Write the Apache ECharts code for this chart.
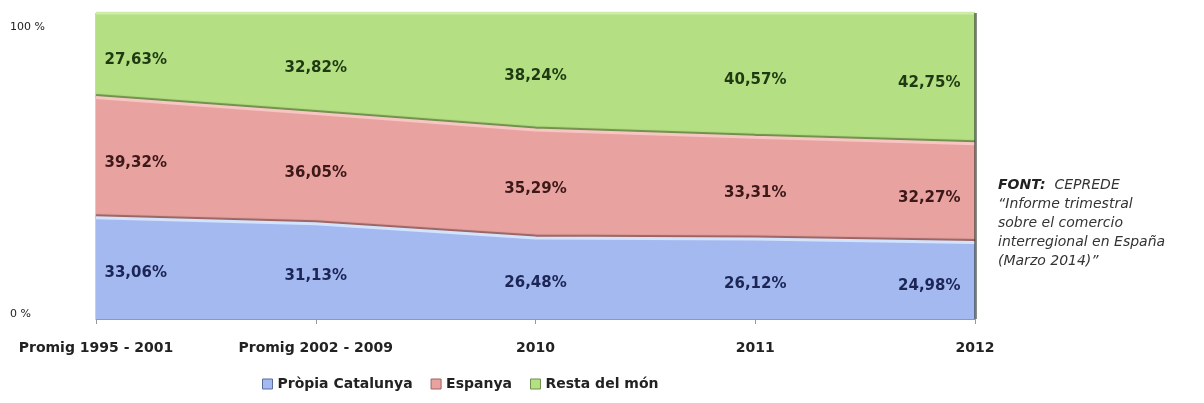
<!DOCTYPE html>
<html>
<head>
<meta charset="utf-8">
<script src="https://cdn.jsdelivr.net/npm/echarts@6/dist/echarts.min.js"></script>
<style>
  html, body { margin: 0; padding: 0; background: #fff; }
  #chart { width: 1204px; height: 403px; }
</style>
</head>
<body>
<div id="chart"></div>
<script>
// categories and shares (%)
const categories = ["Promig 1995 - 2001", "Promig 2002 - 2009", "2010", "2011", "2012"];
const catalunya = [33.06, 31.13, 26.48, 26.12, 24.98];
const espanya = [39.32, 36.05, 35.29, 33.31, 32.27];
const restaMon = [27.63, 32.82, 38.24, 40.57, 42.75];
const yTicks = [0, 100];

const FONT = "DejaVu Sans";

const bands = [
  { name: "Pròpia Catalunya", values: catalunya, fill: "#a5b9f1", top: "#d3e3fc", edge: "#5b6d9c", text: "#1b2556" },
  { name: "Espanya", values: espanya, fill: "#e8a3a1", top: "#f7c6c3", edge: "#9a6462", text: "#3c1818" },
  { name: "Resta del món", values: restaMon, fill: "#b4e083", top: "#cdeca9", edge: "#6f8f4c", text: "#1f3a12" },
];

const fmt = (v) => v.toFixed(2).replace(".", ",") + "%";

// midpoints of each band, so the labels sit inside it
const midpoints = bands.map((b, i) =>
  b.values.map((v, j) => {
    let below = 0;
    for (let k = 0; k < i; k++) below += bands[k].values[j];
    return below + v / 2;
  })
);

const series = [];

bands.forEach((b, i) => {
  series.push({
    name: b.name,
    type: "line",
    stack: "area",
    data: b.values,
    symbol: "none",
    lineStyle: { width: 0 },
    areaStyle: { color: b.fill, opacity: 1 },
    itemStyle: { color: b.fill },
    z: 2,
    silent: true,
    // dark side edge of the 3D block on the right
    markLine:
      i === 0
        ? {
            silent: true,
            symbol: "none",
            label: { show: false },
            lineStyle: { color: "rgba(40,50,40,0.55)", width: 3, type: "solid" },
            data: [{ xAxis: categories[categories.length - 1] }],
            z: 5,
          }
        : undefined,
  });
});

// top edge of each band: light highlight with a dark seam above it
bands.forEach((b, i) => {
  series.push({
    name: b.name + "-edge",
    type: "line",
    stack: "edges",
    data: b.values,
    symbol: "none",
    lineStyle: {
      width: 3,
      color: b.top,
      shadowColor: i === 2 ? "rgba(0,0,0,0)" : bands[i + 1].edge,
      shadowOffsetY: -2,
      shadowBlur: 1,
    },
    z: 3,
    silent: true,
  });
});

bands.forEach((b, i) => {
  const n = b.values.length;
  series.push({
    name: b.name + "-labels",
    type: "line",
    data: midpoints[i].map((m, j) => ({
      value: m,
      label:
        j === 0
          ? { position: "right", distance: 8 }
          : j === n - 1
          ? { position: "left", distance: 14 }
          : { position: "inside" },
    })),
    symbol: "circle",
    symbolSize: 1,
    showSymbol: true,
    itemStyle: { color: "rgba(0,0,0,0)" },
    lineStyle: { opacity: 0 },
    label: {
      show: true,
      formatter: (p) => fmt(b.values[p.dataIndex]),
      color: b.text,
      fontFamily: FONT,
      fontWeight: "bold",
      fontSize: 15,
      offset: [0, 5],
    },
    z: 4,
    silent: true,
  });
});

const chart = echarts.init(document.getElementById("chart"));
chart.setOption({
  backgroundColor: "#ffffff",
  animation: false,
  grid: {
    left: 96,
    right: 229,
    top: 13,
    height: 306,
    show: true,
    borderColor: "rgba(60,70,60,0.5)",
    borderWidth: 1,
    backgroundColor: "transparent",
  },
  legend: {
    data: bands.map((b) => ({ name: b.name, itemStyle: { color: b.fill, borderColor: b.edge, borderWidth: 1 } })),
    left: 257,
    top: 372,
    icon: "rect",
    itemWidth: 10,
    itemHeight: 10,
    itemGap: 18,
    textStyle: { fontFamily: FONT, fontWeight: "bold", fontSize: 14, color: "#222" },
  },
  xAxis: {
    type: "category",
    data: categories,
    boundaryGap: false,
    axisLine: { lineStyle: { color: "#999" } },
    axisTick: { show: true, length: 5, lineStyle: { color: "#999" } },
    axisLabel: {
      fontFamily: FONT,
      fontWeight: "bold",
      fontSize: 14,
      color: "#222",
      margin: 22,
      interval: 0,
    },
  },
  yAxis: {
    type: "value",
    min: yTicks[0],
    max: yTicks[yTicks.length - 1],
    interval: 100,
    splitLine: { show: false },
    axisLine: { show: false },
    axisTick: { show: false },
    axisLabel: {
      align: "left",
      margin: 86,
      formatter: (v) => (v === 100 ? "{a|" + v + " %}" : "{b|" + v + " %}"),
      rich: {
        a: { fontFamily: FONT, fontSize: 11, color: "#222", padding: [28, 0, 0, 0] },
        b: { fontFamily: FONT, fontSize: 11, color: "#222", padding: [0, 0, 10, 0] },
      },
    },
  },
  graphic: [
    {
      type: "text",
      left: 998,
      top: 176,
      style: {
        text: "{b|FONT:}  CEPREDE\n\u201CInforme trimestral\nsobre el comercio\ninterregional en España\n(Marzo 2014)\u201D",
        fontFamily: FONT,
        fontStyle: "italic",
        fontSize: 14,
        lineHeight: 19,
        fill: "#333",
        rich: {
          b: { fontFamily: FONT, fontStyle: "italic", fontWeight: "bold", fontSize: 14, lineHeight: 19, fill: "#222" },
        },
      },
    },
  ],
  series: series,
});
</script>
</body>
</html>
